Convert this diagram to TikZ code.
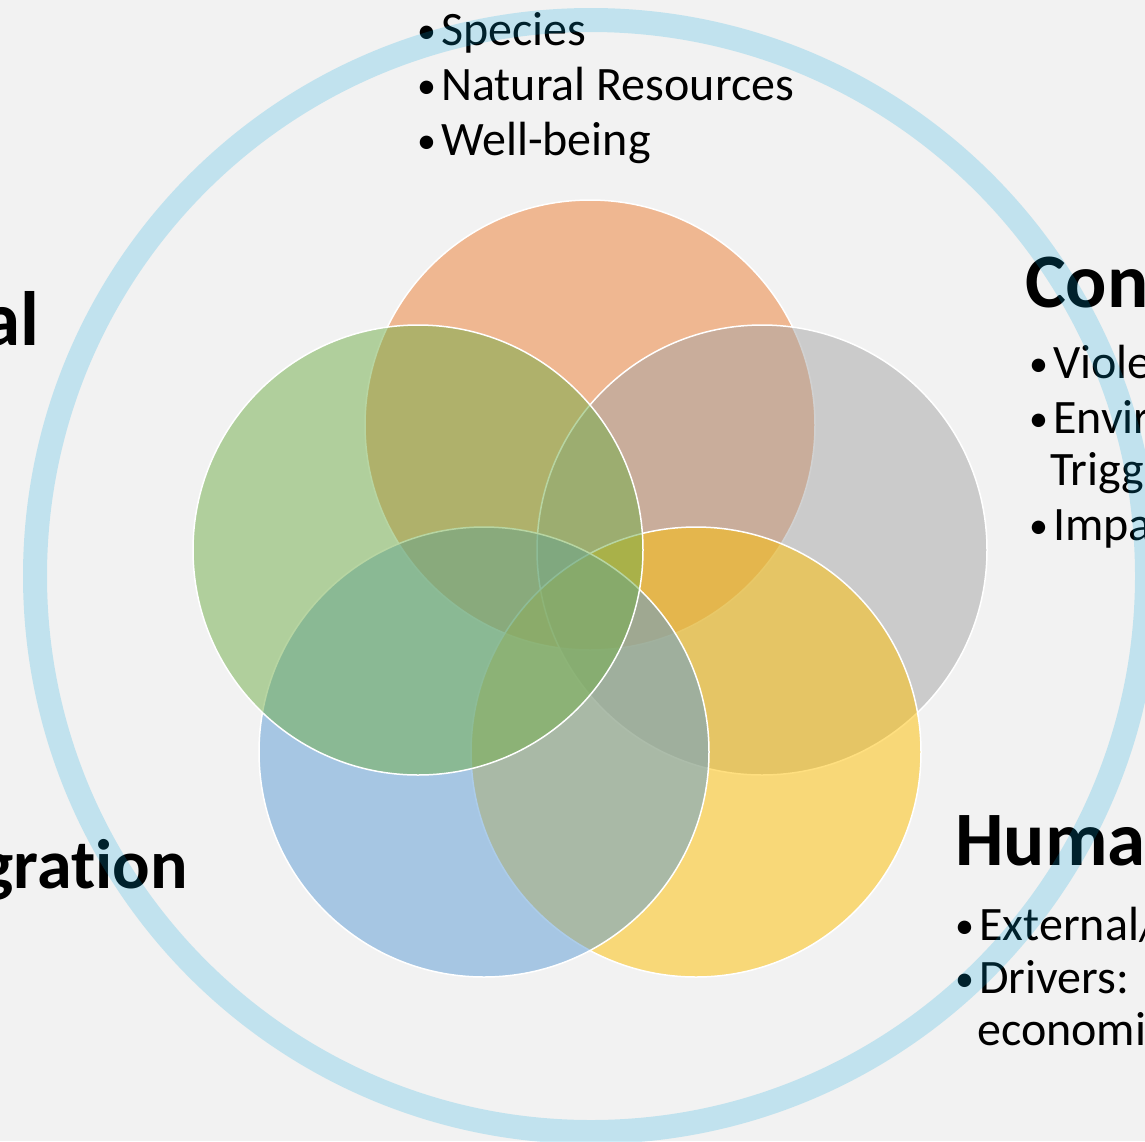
\documentclass[tikz,border=0pt]{standalone}
\usepackage{fontspec}
\setmainfont{Carlito}[RawFeature=-liga]
\definecolor{bggray}{HTML}{F2F2F2}
\definecolor{orng}{HTML}{ED7D31}
\definecolor{gry}{HTML}{A5A5A5}
\definecolor{yllw}{HTML}{FFC000}
\definecolor{blu}{HTML}{5B9BD5}
\definecolor{grn}{HTML}{70AD47}
\definecolor{ringblue}{RGB}{0,166,224}
\newcommand{\bul}{\makebox[24pt][l]{\raisebox{2pt}{\fontsize{38}{40}\selectfont •}}}
\tikzset{
  petal/.style={circle, draw=white, line width=1.5pt, fill opacity=0.5, inner sep=0pt, minimum size=450pt},
  item/.style={anchor=base west, inner sep=0pt, font=\fontsize{48}{56}\selectfont},
  head/.style={inner sep=0pt, font=\fontsize{77}{90}\selectfont\bfseries}
}
\begin{document}
\begin{tikzpicture}[x=1pt,y=-1pt]
  \fill[bggray] (0,0) rectangle (1145,1141);
  \useasboundingbox (0,0) rectangle (1145,1141);

  % five petals
  \node[petal, fill=orng] (p1) at (590,425) {};
  \node[petal, fill=gry] (p2) at (762,550) {};
  \node[petal, fill=yllw] (p3) at (696,752) {};
  \node[petal, fill=blu] (p4) at (484,752) {};
  \node[petal, fill=grn] (p5) at (418,550) {};

  % top list
  \node[item] (t1) at (417,45) {\bul Species};
  \node[item] (t2) at (417,100) {\bul Natural Resources};
  \node[item] (t3) at (417,155) {\bul Well-being};

  % right lists
  \node[head, anchor=base west] (hc) at (1025,307) {Con};
  \node[item] (c1) at (1029,378) {\bul Viole};
  \node[item] (c2) at (1029,433) {\bul Envir};
  \node[item] (c3) at (1050,485) {Trigg};
  \node[item] (c4) at (1029,540) {\bul Impa};

  \node[head, anchor=base west] (hh) at (955,865) {Huma};
  \node[item] (h1) at (955,940) {\bul External/};
  \node[item] (h2) at (955,993) {\bul Drivers:};
  \node[item] (h3) at (977,1045) {economi};

  % left headings
  \node[head, anchor=base east] (hl) at (40,345) {al};
  \node[head, anchor=base east, font=\fontsize{70}{84}\selectfont\bfseries] (hm) at (188,888) {gration};

  % outer ring
  \node[circle, draw=ringblue, draw opacity=0.2, line width=24pt, inner sep=0pt, minimum size=1112pt] (ring) at (591,576) {};
\end{tikzpicture}
\end{document}
